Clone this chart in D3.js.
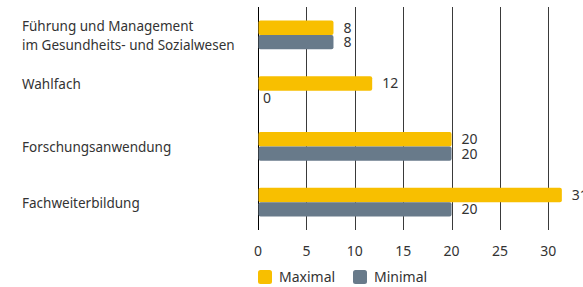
<!DOCTYPE html>
<html>
<head>
<meta charset="utf-8">
<script src="https://cdn.jsdelivr.net/npm/d3@7"></script>
<style>
  body { margin: 0; background: #fff; }
  svg { display: block; font-family: "Noto Sans", sans-serif; }
</style>
</head>
<body>
<svg id="chart" width="583" height="287"></svg>
<script>
// data
const categories = [
  ["Führung und Management", "im Gesundheits- und Sozialwesen"],
  ["Wahlfach"],
  ["Forschungsanwendung"],
  ["Fachweiterbildung"]
];
const maximalValues = [7.8, 11.8, 20, 31.4];
const maximalLabels = ["8", "12", "20", "31"];
const minimalValues = [7.8, 0, 20, 20];
const minimalLabels = ["8", "0", "20", "20"];
const seriesNames = ["Maximal", "Minimal"];
const tickValues = [0, 5, 10, 15, 20, 25, 30];

const colors = { Maximal: "#f8bf00", Minimal: "#687a8a" };

const svg = d3.select("#chart");

const x = d3.scaleLinear().domain([0, 30]).range([258, 548.3]);
const y = d3
  .scaleBand()
  .domain(d3.range(categories.length))
  .range([7, 230])
  .paddingInner(0.48)
  .paddingOuter(0.24);
const sub = d3.scaleBand().domain(seriesNames).range([0, y.bandwidth()]);

// grid lines
svg
  .append("g")
  .selectAll("line")
  .data(tickValues)
  .join("line")
  .attr("x1", (d) => Math.round(x(d)) + 0.5)
  .attr("x2", (d) => Math.round(x(d)) + 0.5)
  .attr("y1", 7)
  .attr("y2", 230)
  .attr("stroke", (d) => (d === 0 ? "#000" : "#3a3a3a"))
  .attr("stroke-width", 1);

// tick labels
svg
  .append("g")
  .selectAll("text")
  .data(tickValues)
  .join("text")
  .attr("x", (d) => x(d))
  .attr("y", 251)
  .attr("dy", "0.35em")
  .attr("text-anchor", "middle")
  .attr("font-size", 14)
  .attr("fill", "#333")
  .text((d) => d);

const rows = categories.map((cat, i) => ({
  i: i,
  cat: cat,
  bars: [
    { key: "Maximal", value: maximalValues[i], label: maximalLabels[i] },
    { key: "Minimal", value: minimalValues[i], label: minimalLabels[i] }
  ]
}));

const group = svg
  .append("g")
  .selectAll("g")
  .data(rows)
  .join("g")
  .attr("transform", (r) => "translate(0," + y(r.i) + ")");

group
  .selectAll("rect")
  .data((r) => r.bars.filter((b) => b.value > 0))
  .join("rect")
  .attr("x", x(0) + 0.5)
  .attr("y", (b) => sub(b.key))
  .attr("width", (b) => x(b.value) - x(0) - 0.5)
  .attr("height", sub.bandwidth())
  .attr("rx", 2)
  .attr("fill", (b) => colors[b.key]);

group
  .selectAll("text.value")
  .data((r) => r.bars)
  .join("text")
  .attr("class", "value")
  .attr("x", (b) => x(b.value) + (b.value > 0 ? 10 : 5))
  .attr("y", (b) => sub(b.key) + sub.bandwidth() / 2)
  .attr("dy", "0.35em")
  .attr("font-size", 14)
  .attr("fill", "#333")
  .text((b) => b.label);

// category labels, centred on the bars that are drawn
const catText = group
  .append("text")
  .attr("x", 22)
  .attr("font-size", 13.5)
  .attr("fill", "#333")
  .attr("y", (r) => {
    const drawn = r.bars.filter((b) => b.value > 0);
    const top = sub(drawn[0].key);
    const bottom = sub(drawn[drawn.length - 1].key) + sub.bandwidth();
    return (top + bottom) / 2 + 1;
  });

catText
  .selectAll("tspan")
  .data((r) => r.cat.map((line, k) => ({ line: line, k: k, n: r.cat.length })))
  .join("tspan")
  .attr("x", 22)
  .attr("dy", (t) => (t.k === 0 ? (0.35 - (t.n - 1) * 0.7) + "em" : "1.4em"))
  .text((t) => t.line);

// legend
const legend = svg
  .append("g")
  .selectAll("g")
  .data(seriesNames)
  .join("g")
  .attr("transform", (d, i) => "translate(" + (258 + i * 95) + ",270)");

legend
  .append("rect")
  .attr("width", 14)
  .attr("height", 14)
  .attr("rx", 2.5)
  .attr("fill", (d) => colors[d]);

legend
  .append("text")
  .attr("x", 21)
  .attr("y", 7)
  .attr("dy", "0.35em")
  .attr("font-size", 14)
  .attr("fill", "#333")
  .text((d) => d);
</script>
</body>
</html>
